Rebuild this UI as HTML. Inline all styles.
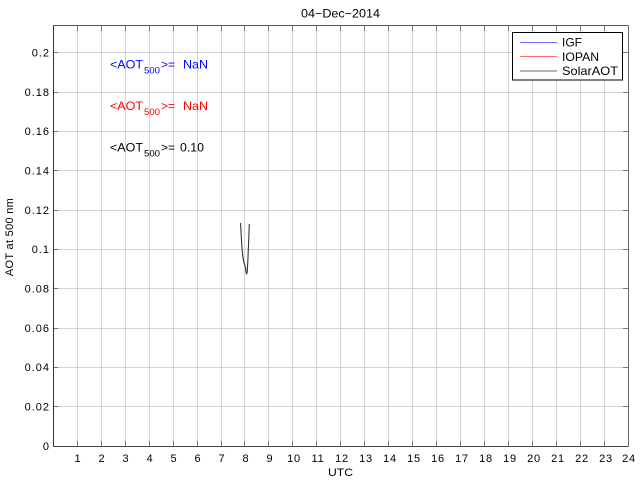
<!DOCTYPE html>
<html>
<head>
<meta charset="utf-8">
<style>
  html,body{margin:0;padding:0;background:#fff;}
  svg{display:block;}
  text{font-family:"Liberation Sans","DejaVu Sans",sans-serif;}
</style>
</head>
<body>
<svg width="640" height="480" viewBox="0 0 640 480" xmlns="http://www.w3.org/2000/svg">
  <rect x="0" y="0" width="640" height="480" fill="#fff"/>
  <!-- vertical grid -->
  <g stroke="#d4d4d4" stroke-width="1">
    <line x1="77.5" y1="26" x2="77.5" y2="446"/>
    <line x1="101.5" y1="26" x2="101.5" y2="446"/>
    <line x1="125.5" y1="26" x2="125.5" y2="446"/>
    <line x1="149.5" y1="26" x2="149.5" y2="446"/>
    <line x1="173.5" y1="26" x2="173.5" y2="446"/>
    <line x1="197.5" y1="26" x2="197.5" y2="446"/>
    <line x1="221.5" y1="26" x2="221.5" y2="446"/>
    <line x1="244.5" y1="26" x2="244.5" y2="446"/>
    <line x1="268.5" y1="26" x2="268.5" y2="446"/>
    <line x1="292.5" y1="26" x2="292.5" y2="446"/>
    <line x1="316.5" y1="26" x2="316.5" y2="446"/>
    <line x1="340.5" y1="26" x2="340.5" y2="446"/>
    <line x1="364.5" y1="26" x2="364.5" y2="446"/>
    <line x1="388.5" y1="26" x2="388.5" y2="446"/>
    <line x1="412.5" y1="26" x2="412.5" y2="446"/>
    <line x1="436.5" y1="26" x2="436.5" y2="446"/>
    <line x1="460.5" y1="26" x2="460.5" y2="446"/>
    <line x1="484.5" y1="26" x2="484.5" y2="446"/>
    <line x1="508.5" y1="26" x2="508.5" y2="446"/>
    <line x1="532.5" y1="26" x2="532.5" y2="446"/>
    <line x1="556.5" y1="26" x2="556.5" y2="446"/>
    <line x1="580.5" y1="26" x2="580.5" y2="446"/>
    <line x1="604.5" y1="26" x2="604.5" y2="446"/>
  </g>
  <!-- horizontal grid -->
  <g stroke="#d4d4d4" stroke-width="1">
    <line x1="53" y1="406.5" x2="628" y2="406.5"/>
    <line x1="53" y1="367.5" x2="628" y2="367.5"/>
    <line x1="53" y1="328.5" x2="628" y2="328.5"/>
    <line x1="53" y1="288.5" x2="628" y2="288.5"/>
    <line x1="53" y1="249.5" x2="628" y2="249.5"/>
    <line x1="53" y1="210.5" x2="628" y2="210.5"/>
    <line x1="53" y1="170.5" x2="628" y2="170.5"/>
    <line x1="53" y1="131.5" x2="628" y2="131.5"/>
    <line x1="53" y1="92.5" x2="628" y2="92.5"/>
    <line x1="53" y1="52.5" x2="628" y2="52.5"/>
  </g>
  <!-- ticks -->
  <g stroke="#777" stroke-width="1">
    <path d="M77.5 446v-5M101.5 446v-5M125.5 446v-5M149.5 446v-5M173.5 446v-5M197.5 446v-5M221.5 446v-5M244.5 446v-5M268.5 446v-5M292.5 446v-5M316.5 446v-5M340.5 446v-5M364.5 446v-5M388.5 446v-5M412.5 446v-5M436.5 446v-5M460.5 446v-5M484.5 446v-5M508.5 446v-5M532.5 446v-5M556.5 446v-5M580.5 446v-5M604.5 446v-5"/>
    <path d="M77.5 26v5M101.5 26v5M125.5 26v5M149.5 26v5M173.5 26v5M197.5 26v5M221.5 26v5M244.5 26v5M268.5 26v5M292.5 26v5M316.5 26v5M340.5 26v5M364.5 26v5M388.5 26v5M412.5 26v5M436.5 26v5M460.5 26v5M484.5 26v5M508.5 26v5M532.5 26v5M556.5 26v5M580.5 26v5M604.5 26v5"/>
    <path d="M53 406.5h5M53 367.5h5M53 328.5h5M53 288.5h5M53 249.5h5M53 210.5h5M53 170.5h5M53 131.5h5M53 92.5h5M53 52.5h5"/>
    <path d="M628 406.5h-5M628 367.5h-5M628 328.5h-5M628 288.5h-5M628 249.5h-5M628 210.5h-5M628 170.5h-5M628 131.5h-5M628 92.5h-5M628 52.5h-5"/>
  </g>
  <!-- axes box -->
  <line x1="53.5" y1="25.5" x2="53.5" y2="446.5" stroke="#333" stroke-width="1"/>
  <line x1="53" y1="446.5" x2="628.5" y2="446.5" stroke="#444" stroke-width="1"/>
  <line x1="628.5" y1="25.5" x2="628.5" y2="446.5" stroke="#666" stroke-width="1"/>
  <line x1="53" y1="25.5" x2="628.5" y2="25.5" stroke="#555" stroke-width="1"/>

  <!-- y tick labels -->
  <g font-size="11" fill="#000" text-anchor="end" letter-spacing="1">
    <text x="50" y="450">0</text>
    <text x="50" y="410.5">0.02</text>
    <text x="50" y="371">0.04</text>
    <text x="50" y="332">0.06</text>
    <text x="50" y="292.5">0.08</text>
    <text x="50" y="253">0.1</text>
    <text x="50" y="214">0.12</text>
    <text x="50" y="174.5">0.14</text>
    <text x="50" y="135">0.16</text>
    <text x="50" y="96">0.18</text>
    <text x="50" y="56.5">0.2</text>
  </g>
  <!-- x tick labels -->
  <g font-size="11" fill="#000" text-anchor="middle" letter-spacing="0.8">
    <text x="78" y="462">1</text>
    <text x="102" y="462">2</text>
    <text x="126" y="462">3</text>
    <text x="150" y="462">4</text>
    <text x="174" y="462">5</text>
    <text x="198" y="462">6</text>
    <text x="222" y="462">7</text>
    <text x="246" y="462">8</text>
    <text x="270" y="462">9</text>
    <text x="294" y="462">10</text>
    <text x="318" y="462">11</text>
    <text x="342" y="462">12</text>
    <text x="366" y="462">13</text>
    <text x="390" y="462">14</text>
    <text x="414" y="462">15</text>
    <text x="438" y="462">16</text>
    <text x="462" y="462">17</text>
    <text x="486" y="462">18</text>
    <text x="510" y="462">19</text>
    <text x="534" y="462">20</text>
    <text x="558" y="462">21</text>
    <text x="582" y="462">22</text>
    <text x="606" y="462">23</text>
    <text x="629" y="462">24</text>
  </g>

  <!-- title & axis labels -->
  <text x="301" y="17.5" font-size="11.5" fill="#000" textLength="79" lengthAdjust="spacingAndGlyphs">04−Dec−2014</text>
  <text x="328" y="476" font-size="11" fill="#000" textLength="25" lengthAdjust="spacingAndGlyphs">UTC</text>
  <text transform="translate(13,237) rotate(-90)" font-size="11" text-anchor="middle" fill="#000" letter-spacing="0.3">AOT at 500 nm</text>

  <!-- annotations -->
  <g fill="#0000ff">
    <text x="110" y="68.5" font-size="12" textLength="33" lengthAdjust="spacingAndGlyphs">&lt;AOT</text>
    <text x="144" y="73.3" font-size="9" textLength="16" lengthAdjust="spacingAndGlyphs">500</text>
    <text x="161" y="68.5" font-size="12" textLength="14" lengthAdjust="spacingAndGlyphs">&gt;=</text>
    <text x="183" y="68.5" font-size="12" textLength="25" lengthAdjust="spacingAndGlyphs">NaN</text>
  </g>
  <g fill="#ff0000">
    <text x="110" y="110" font-size="12" textLength="33" lengthAdjust="spacingAndGlyphs">&lt;AOT</text>
    <text x="144" y="115" font-size="9" textLength="16" lengthAdjust="spacingAndGlyphs">500</text>
    <text x="161" y="110" font-size="12" textLength="14" lengthAdjust="spacingAndGlyphs">&gt;=</text>
    <text x="183" y="110" font-size="12" textLength="25" lengthAdjust="spacingAndGlyphs">NaN</text>
  </g>
  <g fill="#000">
    <text x="110" y="151.5" font-size="12" textLength="33" lengthAdjust="spacingAndGlyphs">&lt;AOT</text>
    <text x="144" y="156.5" font-size="9" textLength="16" lengthAdjust="spacingAndGlyphs">500</text>
    <text x="161" y="151.5" font-size="12" textLength="14" lengthAdjust="spacingAndGlyphs">&gt;=</text>
    <text x="180" y="151.5" font-size="12" textLength="24" lengthAdjust="spacingAndGlyphs">0.10</text>
  </g>

  <!-- data curve -->
  <polyline points="240.5,223 241.2,235 241.8,245 242.5,254 243.2,259 244,263 244.8,265 245.5,268 246,272 246.6,274 247.2,272 247.8,262 248.3,250 248.8,238 249.3,224"
    fill="none" stroke="#333" stroke-width="1.1" stroke-linejoin="round"/>

  <!-- legend -->
  <rect x="512.5" y="32.5" width="110" height="47.5" fill="#fff" stroke="#000" stroke-width="1"/>
  <line x1="520" y1="42.5" x2="557" y2="42.5" stroke="#6f6fff" stroke-width="1"/>
  <line x1="520" y1="56.5" x2="557" y2="56.5" stroke="#ff6f6f" stroke-width="1"/>
  <line x1="520" y1="71" x2="557" y2="71" stroke="#b4b4b4" stroke-width="2"/>
  <g font-size="12" fill="#000">
    <text x="562" y="46.5">IGF</text>
    <text x="562" y="61" textLength="37" lengthAdjust="spacingAndGlyphs">IOPAN</text>
    <text x="562" y="75" textLength="56" lengthAdjust="spacingAndGlyphs">SolarAOT</text>
  </g>
</svg>
</body>
</html>
